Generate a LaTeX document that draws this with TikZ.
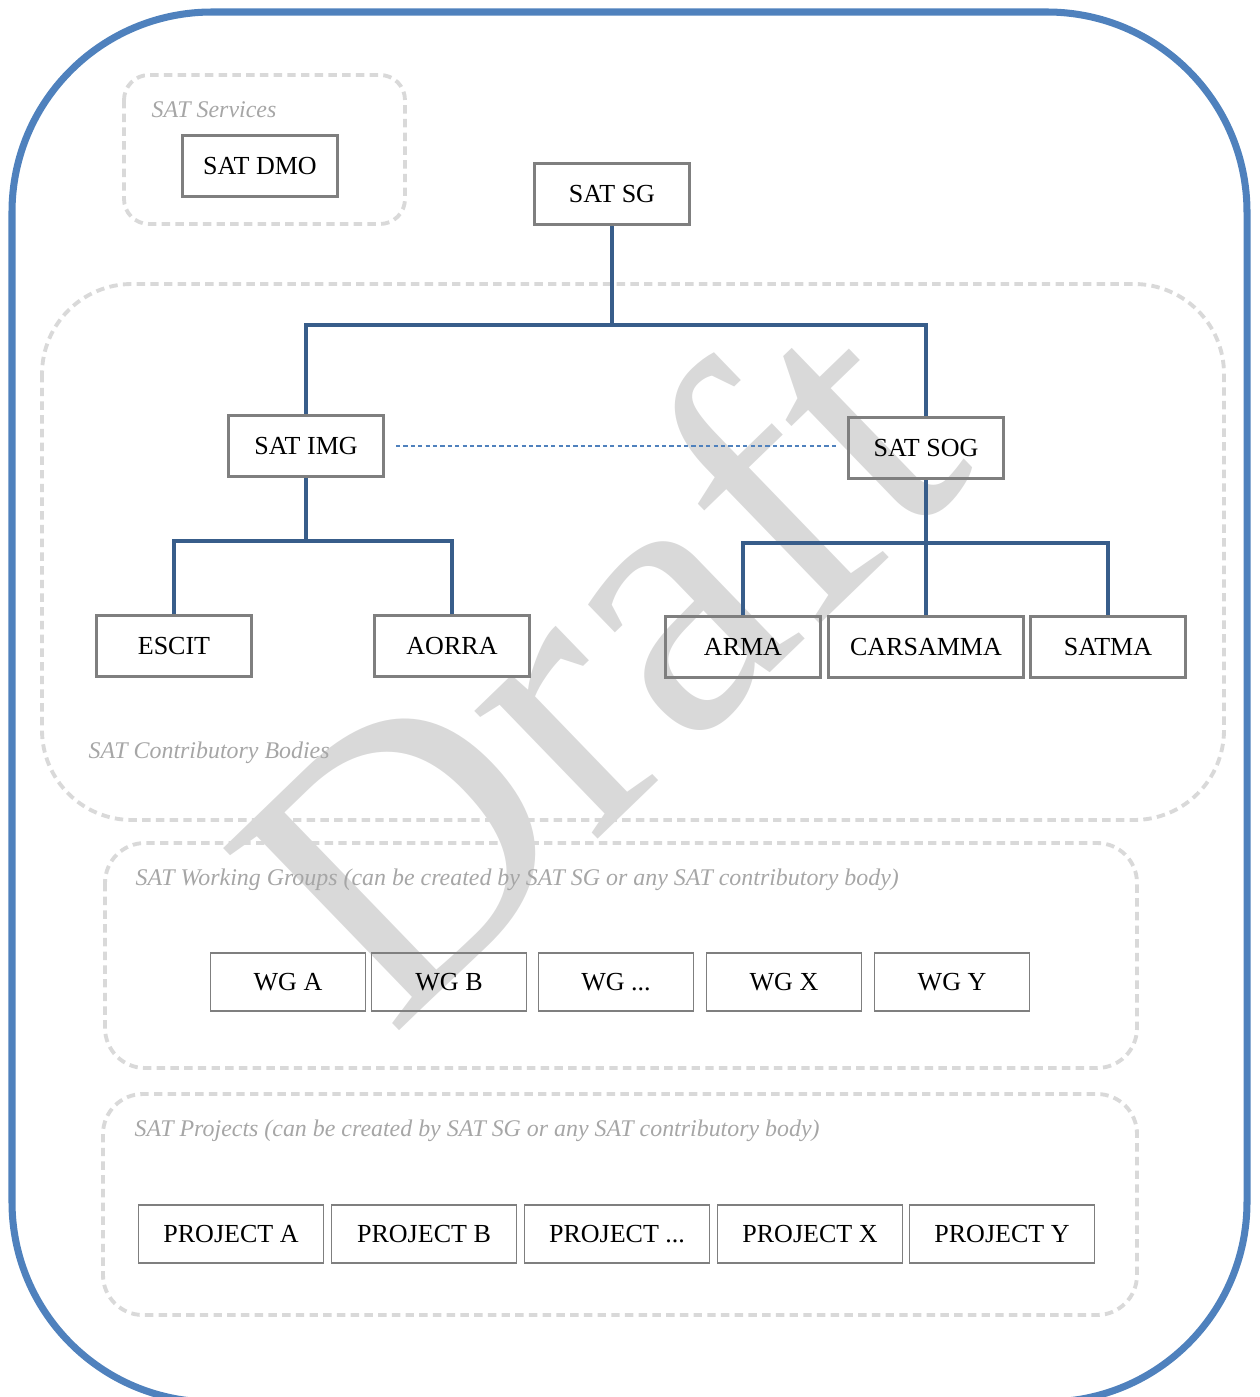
\documentclass[tikz,border=0pt]{standalone}
\usepackage{fontspec}
\setmainfont{Liberation Serif}
\usepackage{tikz}
\usetikzlibrary{calc}

\definecolor{frameblue}{HTML}{4F81BD}
\definecolor{linkblue}{HTML}{385D8A}
\definecolor{boxgray}{HTML}{7F7F7F}
\definecolor{areagray}{HTML}{D9D9D9}
\definecolor{labelgray}{HTML}{A6A6A6}

\begin{document}
\begin{tikzpicture}[
    x=0.01cm, y=-0.01cm,
    box/.style={rectangle, draw=boxgray, line width=0.85pt, minimum width=1.55cm, minimum height=0.61cm, inner sep=0pt, font=\fontsize{7.4}{9}\selectfont},
    thinbox/.style={box, line width=0.5pt, minimum height=0.58cm},
    area/.style={draw=areagray, line width=1.1pt, dash pattern=on 2.4pt off 1.5pt},
    arealabel/.style={anchor=west, inner sep=0pt, text=labelgray, font=\fontsize{6.8}{8}\selectfont\itshape},
    link/.style={draw=linkblue, line width=1.1pt},
    peer/.style={draw=frameblue, line width=0.45pt, dash pattern=on 1.2pt off 0.9pt}
]
\useasboundingbox (0,0) rectangle (1259,1397);

% watermark
\node[text=areagray, rotate=44, font=\fontsize{110}{110}\selectfont] (draft) at (592,658) {Draft};

% frame and areas
\draw[frameblue, line width=2pt, rounded corners=2cm] (12,12) rectangle (1247,1402);
\draw[area, rounded corners=0.25cm] (124,75) rectangle (405,224);
\draw[area, rounded corners=0.9cm] (42,284) rectangle (1224,820);
\draw[area, rounded corners=0.4cm] (105,843) rectangle (1137,1068);
\draw[area, rounded corners=0.4cm] (103,1094) rectangle (1137,1315);

\node[arealabel] (lserv) at (151,110) {SAT Services};
\node[arealabel] (lcont) at (88,753) {SAT Contributory Bodies};
\node[arealabel] (lwg) at (135,880) {SAT Working Groups (can be created by SAT SG or any SAT contributory body)};
\node[arealabel] (lproj) at (134,1131) {SAT Projects (can be created by SAT SG or any SAT contributory body)};

% bodies
\node[box] (dmo) at (260,166) {SAT DMO};
\node[box] (sg) at (612,194) {SAT SG};
\node[box] (img) at (306,446) {SAT IMG};
\node[box] (sog) at (926,448) {SAT SOG};
\node[box] (escit) at (174,646) {ESCIT};
\node[box] (aorra) at (452,646) {AORRA};
\node[box] (arma) at (743,647) {ARMA};
\node[box, minimum width=1.95cm] (carsamma) at (926,647) {CARSAMMA};
\node[box] (satma) at (1108,647) {SATMA};

% working groups
\node[thinbox] (wga) at (288,982) {WG A};
\node[thinbox] (wgb) at (449,982) {WG B};
\node[thinbox] (wgdots) at (616,982) {WG ...};
\node[thinbox] (wgx) at (784,982) {WG X};
\node[thinbox] (wgy) at (952,982) {WG Y};

% projects
\node[thinbox, minimum width=1.85cm] (pra) at (231,1234) {PROJECT A};
\node[thinbox, minimum width=1.85cm] (prb) at (424,1234) {PROJECT B};
\node[thinbox, minimum width=1.85cm] (prdots) at (617,1234) {PROJECT ...};
\node[thinbox, minimum width=1.85cm] (prx) at (810,1234) {PROJECT X};
\node[thinbox, minimum width=1.85cm] (pry) at (1002,1234) {PROJECT Y};

% connectors
\draw[link] (sg.south) -- ++(0,99) -| (img.north);
\draw[link] (sg.south) -- ++(0,99) -| (sog.north);
\draw[link] (img.south) -- ++(0,63) -| (escit.north);
\draw[link] (img.south) -- ++(0,63) -| (aorra.north);
\draw[link] (sog.south) -- (carsamma.north);
\draw[link] ($(sog.south)+(0,63)$) -| (arma.north);
\draw[link] ($(sog.south)+(0,63)$) -| (satma.north);
\draw[peer] ($(img.east)+(11,0)$) -- ($(sog.west)+(-11,-2)$);
\end{tikzpicture}
\end{document}
